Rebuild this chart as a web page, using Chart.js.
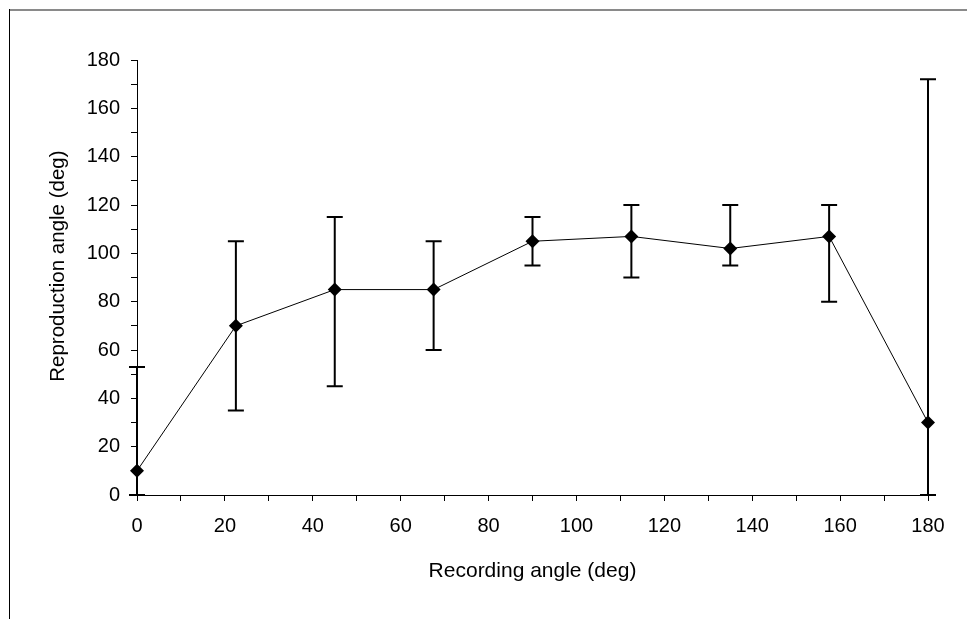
<!DOCTYPE html>
<html>
<head>
<meta charset="utf-8">
<script src="https://cdn.jsdelivr.net/npm/chart.js@4"></script>
<style>
    html, body { margin: 0; padding: 0; background: #fff; }
    #wrap { position: relative; width: 967px; height: 619px; }
</style>
</head>
<body>
<div id="wrap"><canvas id="chart" width="967" height="619"></canvas></div>
<script>
// recording angle (deg)
const angles = [0, 22.5, 45, 67.5, 90, 112.5, 135, 157.5, 180];
// mean reproduction angle (deg)
const means = [10, 70, 85, 85, 105, 107, 102, 107, 30];
// error bar ends (clipped at the axis where they go below 0)
const upper = [53, 105, 115, 105, 115, 120, 120, 120, 172];
const lower = [0, 35, 45, 60, 95, 90, 95, 80, 0];

const FONT = "'Liberation Sans', Arial, sans-serif";

// outer frame, only top and left edges are visible in the window
const framePlugin = {
    id: 'frame',
    beforeDraw(chart) {
        const ctx = chart.ctx;
        ctx.save();
        ctx.fillStyle = '#fff';
        ctx.fillRect(0, 0, chart.width, chart.height);
        ctx.strokeStyle = '#8a8a8a';
        ctx.lineWidth = 2;
        ctx.beginPath();
        ctx.moveTo(9, 10);
        ctx.lineTo(chart.width, 10);
        ctx.stroke();
        ctx.strokeStyle = '#000';
        ctx.lineWidth = 1;
        ctx.beginPath();
        ctx.moveTo(9.5, 9);
        ctx.lineTo(9.5, chart.height);
        ctx.stroke();
        ctx.restore();
    }
};

const errorBarPlugin = {
    id: 'errorBars',
    beforeDatasetsDraw(chart) {
        const ctx = chart.ctx;
        const xs = chart.scales.x;
        const ys = chart.scales.y;
        ctx.save();
        ctx.strokeStyle = '#000';
        ctx.lineWidth = 2;
        for (let i = 0; i < angles.length; i++) {
            const x = xs.getPixelForValue(angles[i]);
            const yTop = ys.getPixelForValue(upper[i]);
            const yBot = ys.getPixelForValue(lower[i]);
            ctx.beginPath();
            ctx.moveTo(x, yTop);
            ctx.lineTo(x, yBot);
            ctx.moveTo(x - 8, yTop);
            ctx.lineTo(x + 8, yTop);
            ctx.moveTo(x - 8, yBot);
            ctx.lineTo(x + 8, yBot);
            ctx.stroke();
        }
        ctx.restore();
    }
};

new Chart(document.getElementById('chart').getContext('2d'), {
    type: 'line',
    data: {
        datasets: [{
            data: angles.map(function (a, i) { return { x: a, y: means[i] }; }),
            borderColor: '#000',
            borderWidth: 1,
            backgroundColor: '#000',
            pointStyle: 'rectRot',
            pointRadius: 7,
            pointBackgroundColor: '#000',
            pointBorderColor: '#000',
            pointBorderWidth: 0,
            tension: 0,
            clip: false
        }]
    },
    options: {
        responsive: false,
        animation: false,
        layout: { padding: { left: 0, top: 60, right: 39, bottom: 0 } },
        plugins: {
            legend: { display: false },
            tooltip: { enabled: false }
        },
        scales: {
            x: {
                type: 'linear',
                min: 0,
                max: 180,
                afterFit: function (scale) { scale.height = 124; },
                border: { display: true, color: '#000', width: 1 },
                grid: { drawOnChartArea: false, drawTicks: true, tickLength: 6, tickColor: '#000' },
                ticks: {
                    stepSize: 10,
                    padding: 13,
                    color: '#000',
                    maxRotation: 0,
                    autoSkip: false,
                    font: { family: FONT, size: 20 },
                    callback: function (v) { return v % 20 === 0 ? String(v) : ''; }
                },
                title: {
                    display: true,
                    text: 'Recording angle (deg)',
                    color: '#000',
                    font: { family: FONT, size: 21 },
                    padding: { top: 0, bottom: 35 }
                }
            },
            y: {
                min: 0,
                max: 180,
                afterFit: function (scale) { scale.width = 137; },
                border: { display: true, color: '#000', width: 1 },
                grid: { drawOnChartArea: false, drawTicks: true, tickLength: 6, tickColor: '#000' },
                ticks: {
                    stepSize: 10,
                    padding: 11,
                    color: '#000',
                    autoSkip: false,
                    font: { family: FONT, size: 20 },
                    callback: function (v) { return v % 20 === 0 ? String(v) : ''; }
                },
                title: {
                    display: true,
                    // leading spaces nudge the centred title up a little
                    text: '\u00a0\u00a0\u00a0\u00a0Reproduction angle (deg)',
                    color: '#000',
                    font: { family: FONT, size: 20.5 },
                    padding: { top: 46, bottom: 0 }
                }
            }
        }
    },
    plugins: [framePlugin, errorBarPlugin]
});
</script>
</body>
</html>
